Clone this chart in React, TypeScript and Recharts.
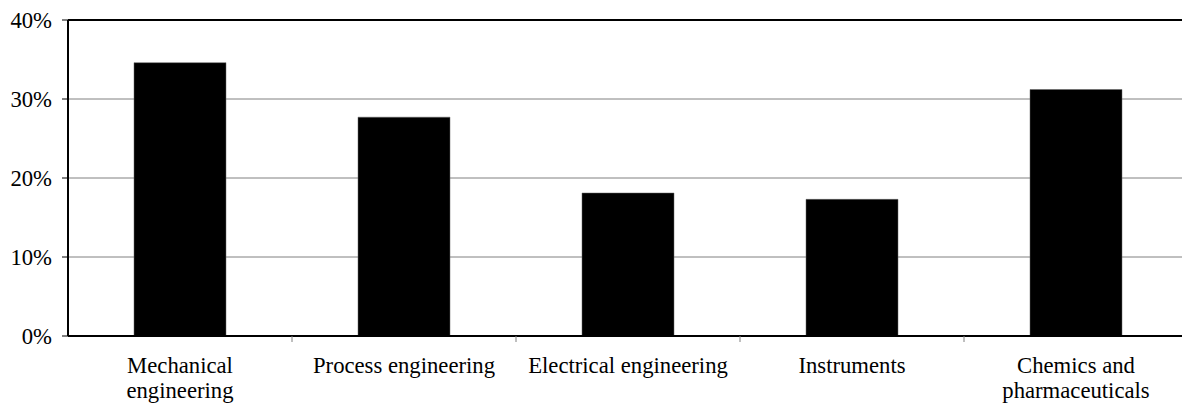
import React from "react";
import { BarChart, Bar, XAxis, YAxis, CartesianGrid, ReferenceLine } from "recharts";

// Industry sectors (line breaks mark where a label wraps)
const categories = [
  "Mechanical\nengineering",
  "Process engineering",
  "Electrical engineering",
  "Instruments",
  "Chemics and\npharmaceuticals",
];

// Share per sector, in percent
const shares = [34.6, 27.7, 18.1, 17.3, 31.2];

// Value axis ticks, in percent
const yTicks = [0, 10, 20, 30, 40];

const data = categories.map((name, i) => ({ name, share: shares[i] }));

const FONT = "Liberation Serif, DejaVu Serif, serif";
const FONT_SIZE = 22.7;

// Category label with manual wrapping, plus a small separator tick at the
// left edge of each category band (the first edge coincides with the y-axis).
const CategoryTick = (props: any) => {
  const { x, y, payload, index } = props;
  const half = payload && payload.offset ? payload.offset : 112;
  const lines = String(payload.value).split("\n");
  return (
    <g>
      {index > 0 && (
        <line x1={x - half} x2={x - half} y1={y} y2={y + 6} stroke="#808080" strokeWidth={1} />
      )}
      <text
        x={x}
        y={y + 37}
        textAnchor="middle"
        style={{ fontFamily: FONT, fontSize: FONT_SIZE }}
        fill="#000"
      >
        {lines.map((line, i) => (
          <tspan key={i} x={x} dy={i === 0 ? 0 : 25}>
            {line}
          </tspan>
        ))}
      </text>
    </g>
  );
};

// Value axis label, right-aligned against the tick marks
const ValueTick = (props: any) => {
  const { x, y, payload } = props;
  return (
    <text
      x={x}
      y={y}
      dy="0.35em"
      textAnchor="end"
      style={{ fontFamily: FONT, fontSize: FONT_SIZE }}
      fill="#000"
    >
      {`${payload.value}%`}
    </text>
  );
};

export default function App() {
  return (
    <div
      style={{
        position: "absolute",
        left: 0,
        top: 0,
        width: 1182,
        height: 408,
        overflow: "hidden",
        background: "#fff",
        fontFamily: FONT,
      }}
    >
      <BarChart
        width={1200}
        height={408}
        data={data}
        margin={{ top: 20, right: 12, bottom: 0, left: 0 }}
        barSize={92}
      >
        <CartesianGrid horizontal vertical={false} stroke="#808080" strokeWidth={1} />
        <XAxis
          dataKey="name"
          height={72}
          interval={0}
          tickLine={false}
          tickSize={0}
          tickMargin={0}
          axisLine={{ stroke: "#000", strokeWidth: 2 }}
          tick={<CategoryTick />}
        />
        <YAxis
          width={68}
          domain={[0, 40]}
          ticks={yTicks}
          interval={0}
          tickSize={6}
          tickMargin={10}
          tickLine={{ stroke: "#000", strokeWidth: 1 }}
          axisLine={{ stroke: "#000", strokeWidth: 2 }}
          tick={<ValueTick />}
        />
        <ReferenceLine y={40} stroke="#000" strokeWidth={2} />
        <Bar dataKey="share" fill="#000" stroke="#666" strokeWidth={0.5} isAnimationActive={false} />
      </BarChart>
    </div>
  );
}
